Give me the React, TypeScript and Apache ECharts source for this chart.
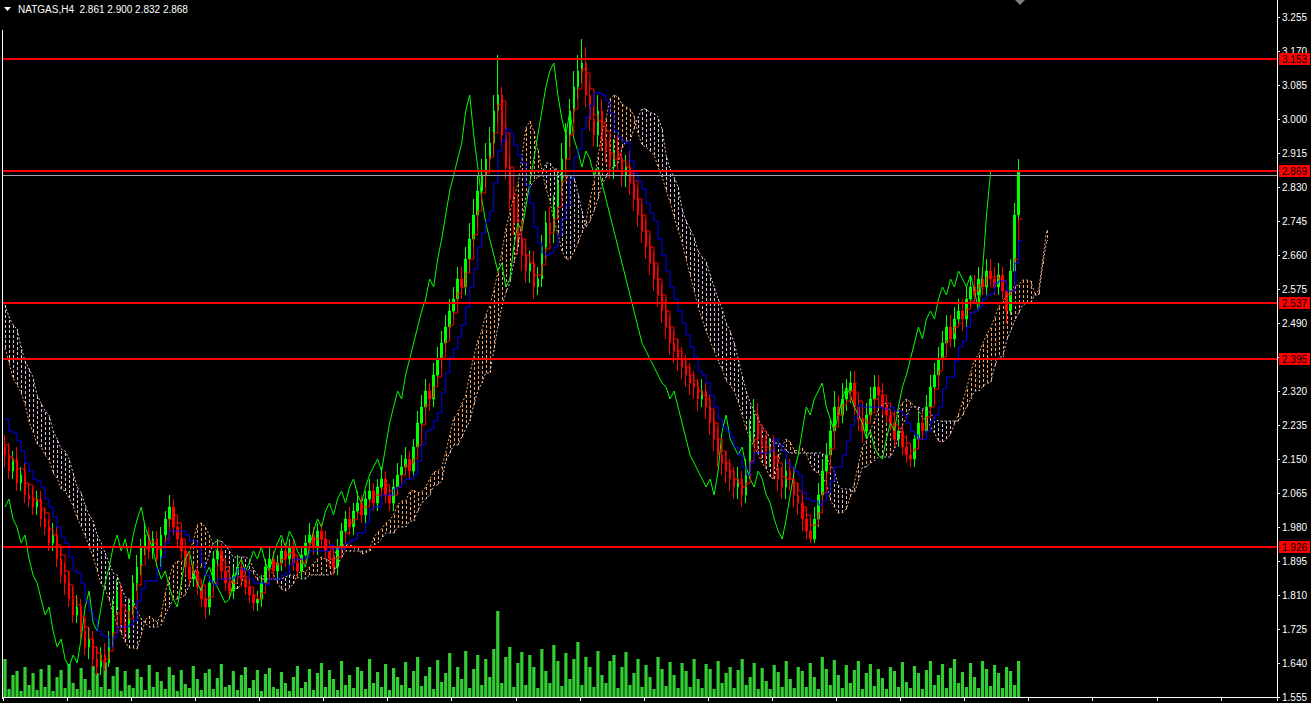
import React, { useEffect, useRef } from "react";
import * as echarts from "echarts";

// ---- price history before the first visible bar (needed by the indicator windows) ----
const preCloses = [2.72, 2.70, 2.66, 2.68, 2.62, 2.58, 2.55, 2.57, 2.50, 2.46, 2.42, 2.44, 2.38, 2.35, 2.32, 2.28, 2.30, 2.25, 2.22, 2.18];
const preHighs = [2.76, 2.74, 2.72, 2.71, 2.69, 2.63, 2.59, 2.60, 2.58, 2.52, 2.48, 2.47, 2.45, 2.40, 2.37, 2.34, 2.33, 2.32, 2.27, 2.24];
const preLows = [2.68, 2.67, 2.64, 2.63, 2.60, 2.56, 2.52, 2.53, 2.48, 2.44, 2.40, 2.40, 2.36, 2.33, 2.29, 2.26, 2.26, 2.23, 2.19, 2.15];

// ---- visible bars ----
const closes = [
  2.16, 2.12, 2.15, 2.09, 2.11, 2.06, 2.05, 2.03, 2.05, 2.00,
  1.98, 1.94, 1.96, 1.90, 1.86, 1.84, 1.80, 1.76, 1.78, 1.72,
  1.68, 1.70, 1.65, 1.63, 1.66, 1.64, 1.70, 1.78, 1.82, 1.74,
  1.72, 1.78, 1.84, 1.88, 1.93, 1.96, 1.92, 1.95, 1.90, 1.96,
  2.00, 2.03, 1.98, 1.95, 1.92, 1.88, 1.85, 1.87, 1.83, 1.80,
  1.78, 1.84, 1.90, 1.92, 1.87, 1.84, 1.82, 1.86, 1.88, 1.85,
  1.83, 1.81, 1.79, 1.80, 1.84, 1.88, 1.90, 1.87, 1.89, 1.92,
  1.90, 1.93, 1.89, 1.87, 1.91, 1.94, 1.96, 1.93, 1.97, 1.95,
  1.92, 1.90, 1.88, 1.93, 1.97, 2.00, 1.98, 2.02, 2.04, 2.01,
  2.05, 2.07, 2.04, 2.08, 2.10, 2.06, 2.04, 2.08, 2.11, 2.13,
  2.15, 2.12, 2.18, 2.24, 2.28, 2.32, 2.30, 2.36, 2.40, 2.44,
  2.48, 2.52, 2.55, 2.60, 2.58, 2.65, 2.70, 2.76, 2.82, 2.86,
  2.90, 2.94, 3.02, 3.06, 2.96, 2.88, 2.80, 2.74, 2.70, 2.66,
  2.62, 2.64, 2.58, 2.60, 2.68, 2.74, 2.72, 2.78, 2.84, 2.90,
  2.96, 3.02, 3.08, 3.12, 3.14, 3.06, 3.00, 2.96, 3.02, 2.95,
  2.92, 2.88, 2.92, 2.90, 2.86, 2.88, 2.84, 2.80, 2.76, 2.72,
  2.68, 2.64, 2.60, 2.56, 2.52, 2.48, 2.44, 2.42, 2.40, 2.38,
  2.36, 2.34, 2.33, 2.30, 2.32, 2.28, 2.24, 2.20, 2.16, 2.14,
  2.12, 2.10, 2.08, 2.10, 2.06, 2.12, 2.22, 2.26, 2.20, 2.18,
  2.16, 2.18, 2.13, 2.10, 2.08, 2.12, 2.10, 2.06, 2.04, 2.00,
  1.97, 1.95, 2.00, 2.06, 2.12, 2.16, 2.22, 2.28, 2.26, 2.30,
  2.32, 2.34, 2.28, 2.25, 2.22, 2.26, 2.30, 2.33, 2.31, 2.28,
  2.26, 2.24, 2.20, 2.22, 2.18, 2.16, 2.15, 2.20, 2.24, 2.22,
  2.28, 2.33, 2.36, 2.40, 2.44, 2.48, 2.45, 2.50, 2.52, 2.50,
  2.55, 2.58, 2.56, 2.60, 2.58, 2.62, 2.60, 2.58, 2.61, 2.57,
  2.52, 2.62, 2.76, 2.868,
];
const highs = [
  2.21, 2.19, 2.17, 2.18, 2.13, 2.14, 2.09, 2.08, 2.07, 2.07,
  2.03, 2.00, 1.99, 1.98, 1.93, 1.89, 1.87, 1.83, 1.81, 1.80,
  1.75, 1.73, 1.72, 1.68, 1.68, 1.69, 1.72, 1.80, 1.85, 1.84,
  1.77, 1.80, 1.86, 1.91, 1.95, 1.99, 1.98, 1.97, 1.97, 1.98,
  2.02, 2.06, 2.05, 2.00, 1.97, 1.94, 1.90, 1.89, 1.89, 1.85,
  1.82, 1.86, 1.92, 1.95, 1.94, 1.89, 1.86, 1.88, 1.91, 1.90,
  1.87, 1.85, 1.83, 1.82, 1.86, 1.90, 1.93, 1.92, 1.91, 1.95,
  1.94, 1.95, 1.95, 1.91, 1.93, 1.96, 1.99, 1.98, 1.99, 1.99,
  1.97, 1.94, 1.92, 1.95, 1.99, 2.02, 2.03, 2.04, 2.07, 2.06,
  2.07, 2.10, 2.09, 2.10, 2.13, 2.12, 2.08, 2.10, 2.14, 2.16,
  2.18, 2.17, 2.20, 2.27, 2.31, 2.35, 2.34, 2.39, 2.43, 2.47,
  2.51, 2.55, 2.58, 2.63, 2.63, 2.68, 2.74, 2.80, 2.86, 2.90,
  2.94, 2.98, 3.06, 3.16, 3.08, 2.99, 2.91, 2.83, 2.78, 2.73,
  2.69, 2.67, 2.67, 2.63, 2.71, 2.77, 2.78, 2.81, 2.87, 2.94,
  2.99, 3.05, 3.12, 3.16, 3.20, 3.18, 3.09, 3.04, 3.06, 3.05,
  2.98, 2.95, 2.95, 2.96, 2.93, 2.91, 2.92, 2.87, 2.83, 2.79,
  2.75, 2.71, 2.67, 2.63, 2.59, 2.55, 2.51, 2.47, 2.45, 2.43,
  2.41, 2.39, 2.37, 2.35, 2.35, 2.34, 2.31, 2.27, 2.23, 2.19,
  2.17, 2.15, 2.13, 2.13, 2.12, 2.15, 2.25, 2.30, 2.29, 2.23,
  2.21, 2.20, 2.21, 2.16, 2.13, 2.15, 2.15, 2.13, 2.09, 2.07,
  2.03, 2.00, 2.03, 2.09, 2.15, 2.19, 2.25, 2.32, 2.31, 2.34,
  2.35, 2.37, 2.37, 2.31, 2.28, 2.29, 2.33, 2.36, 2.36, 2.34,
  2.31, 2.29, 2.27, 2.25, 2.24, 2.21, 2.19, 2.22, 2.27, 2.27,
  2.31, 2.36, 2.39, 2.43, 2.47, 2.51, 2.51, 2.53, 2.55, 2.55,
  2.58, 2.61, 2.61, 2.63, 2.63, 2.65, 2.65, 2.63, 2.64, 2.63,
  2.59, 2.65, 2.79, 2.900,
];
const lows = [
  2.13, 2.10, 2.10, 2.07, 2.07, 2.04, 2.03, 2.01, 2.01, 1.98,
  1.96, 1.92, 1.92, 1.88, 1.84, 1.81, 1.78, 1.74, 1.74, 1.70,
  1.66, 1.65, 1.63, 1.61, 1.61, 1.62, 1.63, 1.68, 1.76, 1.72,
  1.70, 1.70, 1.76, 1.82, 1.86, 1.91, 1.90, 1.90, 1.88, 1.88,
  1.94, 1.98, 1.96, 1.93, 1.90, 1.86, 1.83, 1.83, 1.81, 1.78,
  1.75, 1.76, 1.82, 1.88, 1.85, 1.82, 1.80, 1.80, 1.84, 1.83,
  1.81, 1.79, 1.77, 1.77, 1.78, 1.82, 1.86, 1.85, 1.85, 1.87,
  1.88, 1.88, 1.87, 1.85, 1.85, 1.89, 1.92, 1.91, 1.91, 1.93,
  1.90, 1.88, 1.86, 1.86, 1.91, 1.95, 1.96, 1.96, 2.00, 1.99,
  1.99, 2.03, 2.02, 2.02, 2.06, 2.04, 2.02, 2.02, 2.06, 2.09,
  2.11, 2.10, 2.10, 2.16, 2.22, 2.26, 2.27, 2.28, 2.34, 2.38,
  2.42, 2.45, 2.50, 2.53, 2.55, 2.56, 2.62, 2.68, 2.73, 2.79,
  2.83, 2.87, 2.91, 2.99, 2.93, 2.85, 2.77, 2.71, 2.66, 2.62,
  2.59, 2.59, 2.55, 2.56, 2.58, 2.65, 2.69, 2.69, 2.75, 2.81,
  2.87, 2.93, 2.99, 3.05, 3.09, 3.03, 2.97, 2.93, 2.93, 2.92,
  2.89, 2.85, 2.85, 2.87, 2.83, 2.83, 2.81, 2.77, 2.73, 2.69,
  2.65, 2.61, 2.57, 2.53, 2.49, 2.45, 2.41, 2.39, 2.37, 2.35,
  2.33, 2.31, 2.30, 2.27, 2.28, 2.25, 2.21, 2.17, 2.13, 2.11,
  2.09, 2.07, 2.05, 2.05, 2.03, 2.04, 2.10, 2.19, 2.17, 2.15,
  2.13, 2.13, 2.10, 2.07, 2.05, 2.05, 2.07, 2.03, 2.01, 1.97,
  1.95, 1.94, 1.94, 1.98, 2.04, 2.10, 2.14, 2.20, 2.23, 2.24,
  2.27, 2.29, 2.26, 2.22, 2.19, 2.20, 2.24, 2.28, 2.28, 2.26,
  2.24, 2.22, 2.18, 2.18, 2.16, 2.14, 2.13, 2.13, 2.18, 2.20,
  2.20, 2.26, 2.31, 2.34, 2.38, 2.42, 2.43, 2.43, 2.48, 2.47,
  2.48, 2.53, 2.54, 2.54, 2.56, 2.56, 2.58, 2.56, 2.56, 2.55,
  2.49, 2.51, 2.60, 2.74,
];
const volumes = [
  38, 8, 22, 26, 6, 30, 12, 24, 7, 28,
  10, 32, 6, 20, 27, 9, 33, 14, 8, 29,
  18, 7, 31, 24, 10, 35, 8, 21, 30, 6,
  26, 12, 9, 28, 20, 7, 32, 10, 25, 16,
  8, 30, 22, 6, 27, 13, 9, 31, 18, 7,
  24, 28, 8, 19, 33, 10, 12, 26, 7, 22,
  30, 9, 17, 27, 6, 23, 29, 10, 8, 25,
  14, 6, 20, 31, 9, 15, 28, 7, 24, 34,
  10, 27, 18, 7, 36, 12, 22, 9, 30, 26,
  8, 38, 14, 25, 10, 33, 7, 29, 20, 12,
  35, 9, 26, 40, 11, 21, 30, 8, 37, 15,
  24, 44, 10, 30, 18, 46, 9, 28, 42, 12,
  38, 20, 48, 86, 14, 40, 50, 10, 34, 45,
  12, 42, 30, 9, 48, 26, 14, 52, 36, 11,
  44, 18, 38, 55, 12, 40, 30, 10, 46, 22,
  14, 36, 42, 9, 30, 45, 12, 24, 38, 10,
  32, 20, 8, 40, 28, 11, 35, 22, 9, 34,
  26, 10, 38, 18, 9, 33, 28, 8, 36, 14,
  24, 30, 9, 27, 38, 12, 20, 34, 8, 29,
  16, 8, 32, 25, 10, 36, 18, 9, 30, 26,
  10, 34, 20, 8, 40, 28, 12, 37, 22, 9,
  32, 14, 27, 36, 8, 24, 33, 11, 28, 19,
  8, 30, 26, 10, 35, 15, 9, 31, 24, 8,
  27, 36, 12, 22, 33, 9, 29, 38, 14, 25,
  10, 34, 20, 9, 36, 28, 11, 32, 24, 9,
  30, 26, 12, 36,
];

const levels = [3.153, 2.869, 2.537, 2.395, 1.926];
const bidPrice = 2.868;
const titleText = "NATGAS,H4  2.861 2.900 2.832 2.868";

// Ichimoku settings expressed in chart bars
const TENKAN = 2;
const KIJUN = 7;
const SENKOU_B = 13;
const SHIFT = 7;
const CATEGORY_COUNT = 318;

function midRange(h: number[], l: number[], i: number, n: number) {
  const s = Math.max(0, i - n + 1);
  let hi = -Infinity;
  let lo = Infinity;
  for (let k = s; k <= i; k++) {
    if (h[k] > hi) hi = h[k];
    if (l[k] < lo) lo = l[k];
  }
  return (hi + lo) / 2;
}

function buildOption() {
  const P = preCloses.length;
  const allC = [...preCloses, ...closes];
  const allH = [...preHighs, ...highs];
  const allL = [...preLows, ...lows];
  const total = allC.length;
  const tenkanAll = allC.map((_, i) => midRange(allH, allL, i, TENKAN));
  const kijunAll = allC.map((_, i) => midRange(allH, allL, i, KIJUN));
  const spanBAll = allC.map((_, i) => midRange(allH, allL, i, SENKOU_B));

  const cats: string[] = [];
  const candles: any[] = [];
  const tenkan: any[] = [];
  const kijun: any[] = [];
  const chikou: any[] = [];
  const spanA: any[] = [];
  const spanB: any[] = [];
  const cloud: any[] = [];
  const vol: any[] = [];
  for (let v = 0; v < CATEGORY_COUNT; v++) {
    cats.push(String(v));
    const i = v + P;
    if (v < closes.length) {
      const o = allC[i - 1];
      candles.push([o, allC[i], allL[i], allH[i]]);
      vol.push(volumes[v]);
    }
    tenkan.push(i < total ? tenkanAll[i] : "-");
    kijun.push(i < total ? kijunAll[i] : "-");
    chikou.push(i + SHIFT < total ? allC[i + SHIFT] : "-");
    const j = i - SHIFT;
    if (j >= 0 && j < total) {
      const a = (tenkanAll[j] + kijunAll[j]) / 2;
      const b = spanBAll[j];
      spanA.push(a);
      spanB.push(b);
      cloud.push([v, a, b]);
    } else {
      spanA.push("-");
      spanB.push("-");
    }
  }

  const font = "Liberation Sans";

  return {
    animation: false,
    backgroundColor: "#000000",
    grid: { left: 3, right: 34, top: 0, bottom: 6, containLabel: false },
    xAxis: {
      type: "category",
      data: cats,
      boundaryGap: true,
      offset: 2,
      axisLine: { show: true, lineStyle: { color: "#FFFFFF", width: 1 } },
      axisTick: { show: true, interval: 15, length: 4, lineStyle: { color: "#FFFFFF" } },
      axisLabel: { show: false },
      splitLine: { show: false },
    },
    yAxis: [
      {
        type: "value",
        position: "right",
        min: 1.555,
        max: 3.2975,
        interval: 0.085,
        axisLine: { show: true, lineStyle: { color: "#FFFFFF", width: 1 } },
        axisTick: { show: true, length: 3, lineStyle: { color: "#FFFFFF" } },
        axisLabel: {
          color: "#FFFFFF",
          fontSize: 10,
          fontFamily: font,
          margin: 5,
          showMaxLabel: false,
          formatter: (val: number) => val.toFixed(3),
        },
        splitLine: { show: false },
      },
      { type: "value", min: 0, max: 697, show: false, position: "left" },
    ],
    graphic: [
      {
        type: "polygon",
        shape: { points: [[4, 7], [11, 7], [7.5, 11]] },
        style: { fill: "#FFFFFF" },
      },
      {
        type: "text",
        x: 18,
        y: 9,
        style: {
          text: titleText,
          fill: "#FFFFFF",
          fontSize: 10,
          fontFamily: font,
          verticalAlign: "middle",
        },
      },
      {
        type: "polygon",
        shape: { points: [[1015, 0], [1025, 0], [1020, 5]] },
        style: { fill: "#808080" },
      },
      {
        type: "line",
        shape: { x1: 2.5, y1: 30, x2: 2.5, y2: 699 },
        style: { stroke: "#FFFFFF", lineWidth: 1 },
      },
    ],
    series: [
      {
        name: "Volume",
        type: "bar",
        yAxisIndex: 1,
        data: vol,
        barCategoryGap: "20%",
        itemStyle: { color: "#32CD32" },
        silent: true,
      },
      {
        name: "Kumo",
        type: "custom",
        data: cloud,
        encode: { x: 0, y: [1, 2] },
        clip: true,
        silent: true,
        renderItem: (_params: any, api: any) => {
          const idx = api.value(0);
          const a = api.value(1);
          const b = api.value(2);
          const pa = api.coord([idx, a]);
          const pb = api.coord([idx, b]);
          const x = Math.round(pa[0]) + 0.5;
          return {
            type: "line",
            shape: { x1: x, y1: pa[1], x2: x, y2: pb[1] },
            style: {
              stroke: a >= b ? "#F4A460" : "#D8BFD8",
              lineWidth: 1,
              lineDash: [3, 2],
            },
          };
        },
      },
      {
        name: "Senkou A",
        type: "line",
        data: spanA,
        symbol: "none",
        lineStyle: { color: "#F4A460", width: 1, type: [2, 2] },
        silent: true,
      },
      {
        name: "Senkou B",
        type: "line",
        data: spanB,
        symbol: "none",
        lineStyle: { color: "#D8BFD8", width: 1, type: [2, 2] },
        silent: true,
      },
      {
        name: "Price",
        type: "candlestick",
        data: candles,
        barWidth: 2,
        clip: true,
        itemStyle: {
          color: "#00FF00",
          color0: "#FF0000",
          borderColor: "#00FF00",
          borderColor0: "#FF0000",
          borderWidth: 1,
        },
        silent: true,
      },
      {
        name: "Chikou",
        type: "line",
        data: chikou,
        symbol: "none",
        lineStyle: { color: "#00FF00", width: 1 },
        silent: true,
      },
      {
        name: "Tenkan",
        type: "line",
        data: tenkan,
        symbol: "none",
        step: "end",
        lineStyle: { color: "#FF0000", width: 1 },
        silent: true,
      },
      {
        name: "Kijun",
        type: "line",
        data: kijun,
        symbol: "none",
        step: "end",
        lineStyle: { color: "#0000FF", width: 1 },
        silent: true,
      },
      {
        name: "Bid",
        type: "line",
        data: [],
        silent: true,
        markLine: {
          silent: true,
          symbol: "none",
          animation: false,
          lineStyle: { color: "#A0A0A8", width: 1, type: "solid" },
          label: { show: false },
          data: [{ yAxis: bidPrice - 0.003 }],
        },
      },
      {
        name: "Levels",
        type: "line",
        data: [],
        silent: true,
        markLine: {
          silent: true,
          symbol: "none",
          animation: false,
          lineStyle: { color: "#FF0000", width: 2, type: "solid" },
          label: {
            show: true,
            position: "end",
            distance: 2,
            backgroundColor: "#FF0000",
            color: "#000000",
            fontSize: 10,
            fontFamily: font,
            padding: [1, 3, 1, 3],
          },
          data: levels.map((l) => ({ yAxis: l, label: { formatter: l.toFixed(3) } })),
        },
      },
    ],
  };
}

export default function App() {
  const ref = useRef<HTMLDivElement>(null);
  useEffect(() => {
    document.body.style.margin = "0";
    document.body.style.background = "#000000";
    if (!ref.current) return;
    const chart = echarts.init(ref.current, undefined, { renderer: "svg" });
    chart.setOption(buildOption() as any);
    return () => chart.dispose();
  }, []);
  return <div ref={ref} style={{ width: 1311, height: 703, background: "#000000" }} />;
}
